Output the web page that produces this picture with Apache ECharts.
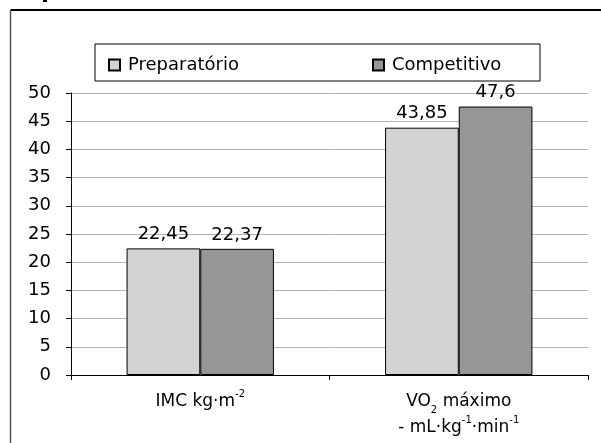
<!DOCTYPE html>
<html><head><meta charset="utf-8">
<script src="https://cdn.jsdelivr.net/npm/echarts@6/dist/echarts.min.js"></script>
<style>html,body{margin:0;padding:0;background:#fff}#c{width:601px;height:443px}</style>
</head><body><div id="c"></div>
<script>
const categories = ['IMC', 'VO2'];
const seriesNames = ['Preparatório', 'Competitivo'];
const preparatorio = [22.45, 43.85];
const competitivo = [22.37, 47.6];
const yTicks = [0, 5, 10, 15, 20, 25, 30, 35, 40, 45, 50];

const chart = echarts.init(document.getElementById('c'));
const font = 'DejaVu Sans';
const fmt = p => String(p.value).replace('.', ',');
chart.setOption({
  animation: false,
  textStyle: { fontFamily: font },
  graphic: [
    { type: 'rect', shape: { x: 43, y: 0, width: 4, height: 2 }, style: { fill: '#000' } },
    { type: 'line', shape: { x1: 10.5, y1: 10, x2: 601, y2: 10 }, style: { stroke: '#000', lineWidth: 2 } },
    { type: 'line', shape: { x1: 10.5, y1: 10, x2: 10.5, y2: 443 }, style: { stroke: '#555', lineWidth: 1.5 } },
    { type: 'rect', shape: { x: 95, y: 44, width: 445, height: 37 }, style: { fill: 'none', stroke: '#000', lineWidth: 1 } }
  ],
  legend: {
    left: 103, top: 51, itemGap: 133,
    itemWidth: 11, itemHeight: 11,
    textStyle: { fontSize: 18, color: '#000', fontFamily: font, padding: [0, 0, 0, 3] },
    data: seriesNames.map(n => ({ name: n, icon: 'rect' }))
  },
  grid: { left: 71, right: 13, top: 93, bottom: 68 },
  xAxis: {
    type: 'category', data: categories,
    axisLine: { lineStyle: { color: '#000' } },
    axisTick: { show: true, length: 5, lineStyle: { color: '#000' } },
    axisLabel: {
      margin: 14, color: '#000', fontSize: 17, interval: 0, lineHeight: 26,
      formatter: v => v === 'IMC' ? 'IMC kg·m{s|-2}' : 'VO{b|2} máximo\n- mL·kg{s|-1}·min{s|-1}',
      rich: {
        s: { fontSize: 10, verticalAlign: 'top', padding: [0, 0, 9, 0], color: '#000' },
        b: { fontSize: 10, verticalAlign: 'bottom', padding: [9, 0, 0, 0], color: '#000' }
      }
    }
  },
  yAxis: {
    type: 'value', min: 0, max: 50, interval: 5,
    axisLine: { show: true, lineStyle: { color: '#000' } },
    axisTick: { show: true, length: 5, lineStyle: { color: '#000' } },
    splitLine: { lineStyle: { color: '#b4b4b4', width: 1 } },
    axisLabel: { color: '#000', fontSize: 18, margin: 20,
      formatter: v => yTicks.includes(v) ? String(v) : '' }
  },
  series: [
    { name: seriesNames[0], type: 'bar', data: preparatorio, barGap: '0%', barCategoryGap: '43%',
      itemStyle: { color: '#d3d3d3', borderColor: '#000', borderWidth: 1 },
      label: { show: true, position: 'top', distance: 5, color: '#000', fontSize: 18, formatter: fmt } },
    { name: seriesNames[1], type: 'bar', data: competitivo, barGap: '0%', barCategoryGap: '43%',
      itemStyle: { color: '#969696', borderColor: '#000', borderWidth: 1 },
      label: { show: true, position: 'top', distance: 5, color: '#000', fontSize: 18, formatter: fmt } }
  ]
});
</script></body></html>
